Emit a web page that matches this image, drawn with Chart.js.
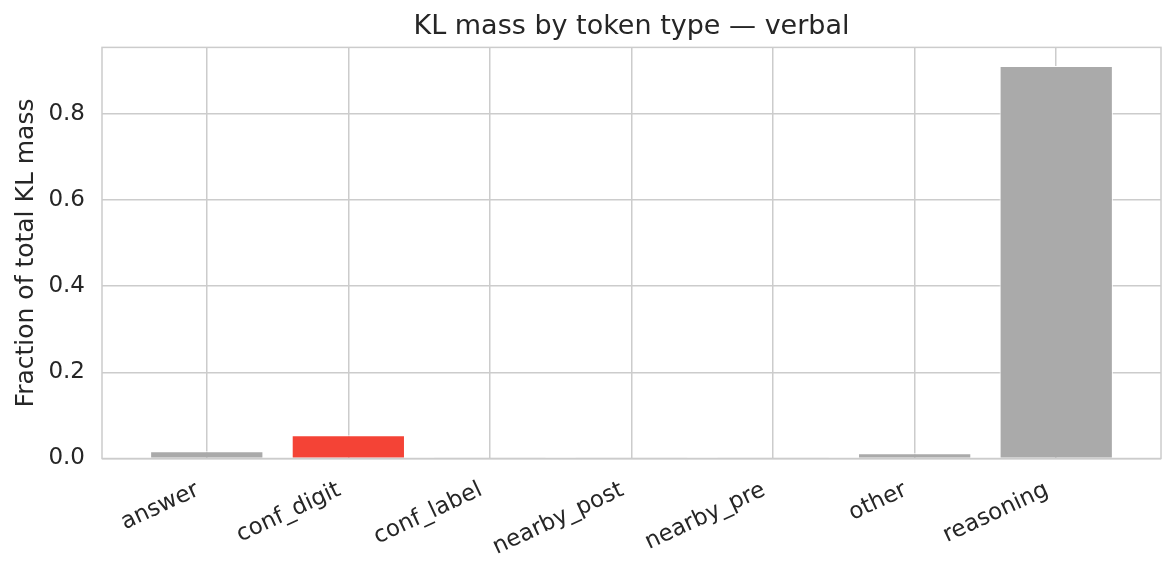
<!DOCTYPE html>
<html>
<head>
<meta charset="utf-8">
<script src="https://cdn.jsdelivr.net/npm/chart.js@4"></script>
<style>
  html, body { margin: 0; padding: 0; background: #fff; }
  #wrap { width: 1176px; height: 576px; }
</style>
</head>
<body>
<div id="wrap"><canvas id="chart"></canvas></div>
<script>
const categories = ['answer', 'conf_digit', 'conf_label', 'nearby_post', 'nearby_pre', 'other', 'reasoning'];
const klFraction = [0.017, 0.054, 0.001, 0.0008, 0.0006, 0.012, 0.911];
const yTicks = [0.0, 0.2, 0.4, 0.6, 0.8];
const highlighted = 'conf_digit';

const GRID = '#cccccc';
const TEXT = '#262626';
const FONT = "'DejaVu Sans', sans-serif";

// axes frame on all four sides, drawn over the bars like matplotlib spines
const framePlugin = {
  id: 'frame',
  afterDatasetsDraw(chart) {
    const { ctx, chartArea: a } = chart;
    ctx.save();
    ctx.strokeStyle = GRID;
    ctx.lineWidth = 1.5;
    ctx.strokeRect(a.left, a.top, a.right - a.left, a.bottom - a.top);
    ctx.restore();
  }
};

const ctx = document.getElementById('chart').getContext('2d');
new Chart(ctx, {
  type: 'bar',
  data: {
    datasets: [{
      data: klFraction.map((v, i) => ({ x: i, y: v })),
      backgroundColor: categories.map(c => (c === highlighted ? '#f44336' : '#aaaaaa')),
      borderColor: '#ffffff',
      borderWidth: 1,
      borderSkipped: 'bottom',
      categoryPercentage: 1,
      barPercentage: 0.8
    }]
  },
  options: {
    responsive: true,
    maintainAspectRatio: false,
    animation: false,
    layout: { padding: { top: 0, right: 15, bottom: 0, left: 0 } },
    plugins: {
      legend: { display: false },
      tooltip: { enabled: false },
      title: {
        display: true,
        text: 'KL mass by token type — verbal',
        fullSize: false,
        color: TEXT,
        font: { family: FONT, size: 27, weight: 'normal' },
        padding: { top: 11, bottom: 4 }
      }
    },
    scales: {
      x: {
        type: 'linear',
        min: -0.74,
        max: 6.74,
        offset: false,
        afterBuildTicks(scale) {
          scale.ticks = categories.map((c, i) => ({ value: i }));
        },
        afterFit(scale) { scale.height = 117.5; },
        grid: { color: GRID, lineWidth: 1.5, drawTicks: false, offset: false },
        border: { display: false },
        ticks: {
          autoSkip: false,
          minRotation: 25,
          maxRotation: 25,
          padding: 18,
          labelOffset: -9,
          color: TEXT,
          font: { family: FONT, size: 23 },
          callback(value) { return categories[value]; }
        }
      },
      y: {
        min: 0,
        max: 0.954,
        afterBuildTicks(scale) {
          scale.ticks = yTicks.map(v => ({ value: v }));
        },
        afterFit(scale) { scale.width = 102; },
        grid: { color: GRID, lineWidth: 1.5, drawTicks: false },
        border: { display: false },
        ticks: {
          padding: 17,
          color: TEXT,
          font: { family: FONT, size: 23 },
          callback(value) { return value.toFixed(1); }
        },
        title: {
          display: true,
          text: 'Fraction of total KL mass',
          color: TEXT,
          font: { family: FONT, size: 25 },
          padding: { top: 11, bottom: 0 }
        }
      }
    }
  },
  plugins: [framePlugin]
});
</script>
</body>
</html>
